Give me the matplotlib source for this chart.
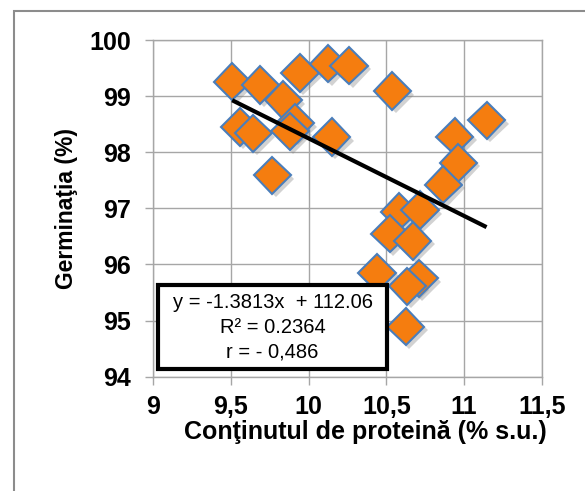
import matplotlib.pyplot as plt
import matplotlib.patheffects as pe
from matplotlib.patches import Rectangle
import numpy as np

# date
protein = [9.508, 9.69, 9.944, 10.126, 10.26, 9.837, 9.558, 9.644, 9.912, 9.88,
           10.148, 9.766, 10.538, 11.145, 10.94, 10.963, 10.866, 10.583, 10.716,
           10.523, 10.669, 10.44, 10.71, 10.635, 10.624]
germination = [99.26, 99.20, 99.41, 99.58, 99.54, 98.93, 98.45, 98.34, 98.52, 98.37,
               98.27, 97.59, 99.09, 98.57, 98.28, 97.81, 97.42, 96.94, 96.97,
               96.55, 96.42, 95.85, 95.75, 95.61, 94.89]
slope = -1.3813
intercept = 112.06
r2_text = "0.2364"
r_text = "- 0,486"

x_ticks = [9, 9.5, 10, 10.5, 11, 11.5]
x_tick_labels = ["9", "9,5", "10", "10,5", "11", "11,5"]
y_ticks = [94, 95, 96, 97, 98, 99, 100]

plt.rcParams['font.family'] = ['Liberation Sans', 'DejaVu Sans']

fig = plt.figure(figsize=(5.85, 4.91), dpi=100)
ax = fig.add_axes([0.262, 0.2328, 0.664, 0.6857])

# chenarul exterior
fig.patches.append(Rectangle((13.5 / 585, -0.05), 1.0, 1.05 - 11.5 / 491,
                             transform=fig.transFigure, fill=False,
                             edgecolor='#8c8c8c', linewidth=1.5))

ax.plot(protein, germination, linestyle='none', marker='D', markersize=19,
        markerfacecolor='#f57d0f', markeredgecolor='#4a7ebb', markeredgewidth=1.5,
        zorder=3,
        path_effects=[pe.SimplePatchShadow(offset=(2.5, -2.5), shadow_rgbFace='gray',
                                           alpha=0.35), pe.Normal()])

# linia de tendinta
xs = np.array([min(protein), max(protein)])
ax.plot(xs, slope * xs + intercept, color='black', linewidth=3, zorder=4,
        solid_capstyle='butt')

ax.set_xlim(9, 11.5)
ax.set_ylim(94, 100)
ax.set_xticks(x_ticks)
ax.set_xticklabels(x_tick_labels)
ax.set_yticks(y_ticks)
ax.grid(True, color='#a6a6a6', linewidth=1)
ax.set_axisbelow(True)
for s in ax.spines.values():
    s.set_color('#a6a6a6')
    s.set_linewidth(1)
ax.tick_params(direction='out', length=6, width=1, color='#a6a6a6', pad=10,
               labelsize=18)
ax.tick_params(axis='x', pad=7)
for lab in ax.get_xticklabels() + ax.get_yticklabels():
    lab.set_fontweight('bold')

ax.set_xlabel("Conţinutul de proteină (% s.u.)", fontsize=18, fontweight='bold')
ax.xaxis.set_label_coords(0.545, -0.128)
ax.set_ylabel("Germinaţia (%)", fontsize=16.5, fontweight='bold', labelpad=8)

# caseta cu ecuatia
ax.add_patch(Rectangle((0.013, 0.022), 0.588, 0.25, transform=ax.transAxes,
                       facecolor='white', edgecolor='black', linewidth=3, zorder=5))
eq = f"y = {slope}x  + {intercept}\nR² = {r2_text}\nr = {r_text}"
ax.text(0.307, 0.147, eq, transform=ax.transAxes, ha='center', va='center',
        multialignment='center', fontsize=14.5, linespacing=1.4, zorder=6)

fig.savefig('out.png', dpi=100)
